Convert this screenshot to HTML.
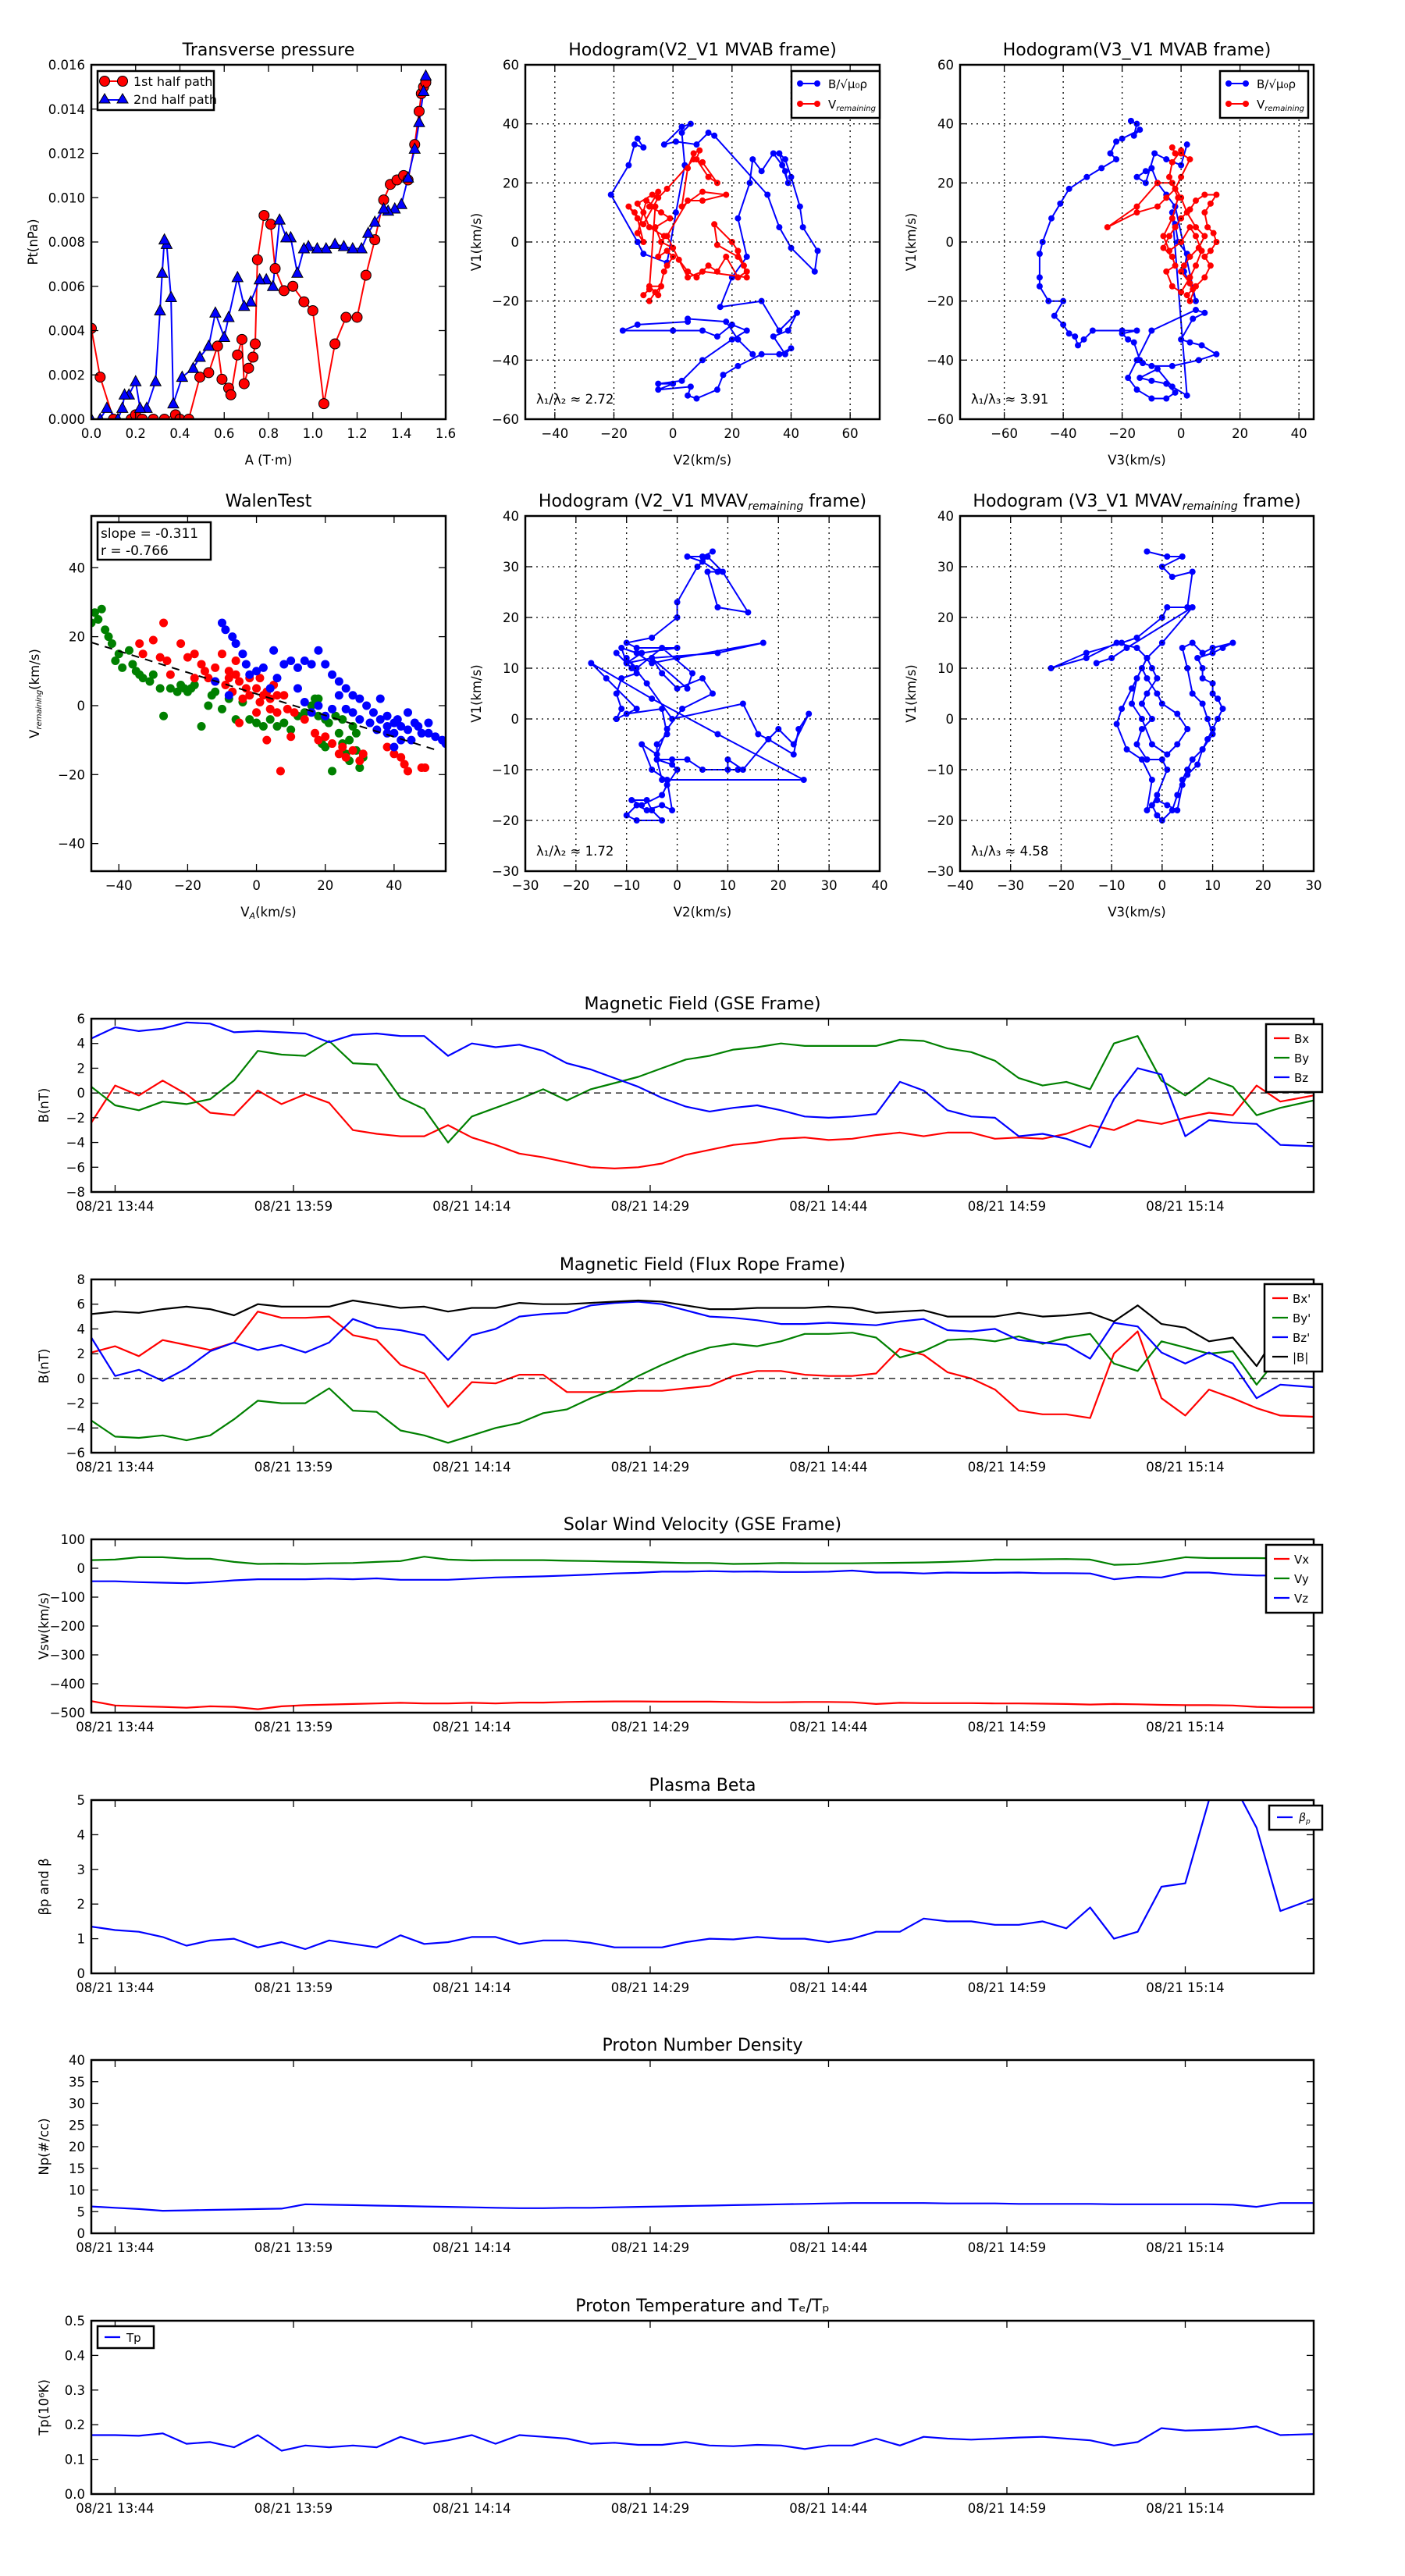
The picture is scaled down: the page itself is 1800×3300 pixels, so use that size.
<!DOCTYPE html>
<html><head><meta charset="utf-8"><title>Flux rope analysis</title>
<style>
html,body{margin:0;padding:0;background:#fff;}
svg{display:block;font-family:"DejaVu Sans","Liberation Sans",sans-serif;}
</style></head>
<body>
<svg id="fig" width="1800" height="3300" viewBox="0 0 1800 3300" xmlns="http://www.w3.org/2000/svg"></svg>
<script>
// ---------------- DATA ----------------
// Transverse pressure
const ptRedA=[0.0,0.04,0.1,0.18,0.2,0.23,0.28,0.33,0.38,0.4,0.44,0.49,0.53,0.57,0.59,0.62,0.63,0.66,0.68,0.69,0.71,0.73,0.74,0.75,0.78,0.81,0.83,0.87,0.91,0.96,1.0,1.05,1.1,1.15,1.2,1.24,1.28,1.32,1.35,1.38,1.41,1.43,1.46,1.48,1.49,1.5,1.51];
const ptRedP=[0.0041,0.0019,0.0,0.0,0.0002,0.0,0.0,0.0,0.0002,0.0,0.0,0.0019,0.0021,0.0033,0.0018,0.0014,0.0011,0.0029,0.0036,0.0016,0.0023,0.0028,0.0034,0.0072,0.0092,0.0088,0.0068,0.0058,0.0060,0.0053,0.0049,0.0007,0.0034,0.0046,0.0046,0.0065,0.0081,0.0099,0.0106,0.0108,0.0110,0.0108,0.0124,0.0139,0.0147,0.0150,0.0152];
const ptBlueA=[1.51,1.5,1.48,1.46,1.43,1.4,1.37,1.34,1.32,1.28,1.25,1.22,1.18,1.14,1.1,1.06,1.02,0.98,0.96,0.93,0.9,0.88,0.85,0.82,0.79,0.76,0.72,0.69,0.66,0.62,0.6,0.56,0.53,0.49,0.46,0.41,0.37,0.36,0.34,0.33,0.32,0.31,0.29,0.25,0.22,0.2,0.17,0.15,0.14,0.12,0.07,0.04,0.0];
const ptBlueP=[0.0155,0.0148,0.0134,0.0122,0.0109,0.0097,0.0095,0.0094,0.0095,0.0089,0.0084,0.0077,0.0077,0.0078,0.0079,0.0077,0.0077,0.0078,0.0077,0.0066,0.0082,0.0082,0.0090,0.0060,0.0063,0.0063,0.0053,0.0051,0.0064,0.0046,0.0037,0.0048,0.0033,0.0028,0.0023,0.0019,0.0007,0.0055,0.0079,0.0081,0.0066,0.0049,0.0017,0.0005,0.0005,0.0017,0.0011,0.0011,0.0005,0.0,0.0005,0.0,0.0];
// Hodogram V2-V1 MVAB
const h1BlueV2=[-12,-10,-13,-15,-21,-12,-10,-2,1,4,3,6,3,-3,1,8,12,14,32,36,40,48,49,44,43,40,38,36,38,39,37,34,30,27,26,22,25,20,16,30,36,42,39,34,38,40,36,30,22,17,15,8,5,6,-5,0,-5,3,10,20,25,20,15,10,0,-17,-12,5,5,18,22,27];
const h1BlueV1=[35,32,33,26,16,0,-4,-7,10,26,37,40,39,33,34,33,37,36,16,5,-2,-10,-3,5,12,22,28,30,24,20,26,30,24,28,20,8,-5,-12,-22,-20,-30,-24,-30,-32,-38,-36,-38,-38,-42,-45,-50,-53,-52,-49,-50,-48,-48,-47,-40,-33,-30,-28,-32,-30,-30,-30,-28,-27,-26,-27,-33,-38];
const h1RedV2=[-8,-6,-4,-8,-5,-3,-2,0,-2,-5,-3,-8,-10,-12,-7,-5,-8,-4,-1,-6,-4,0,2,5,8,12,15,18,22,25,22,15,14,20,22,24,25,10,5,-2,5,10,18,10,3,5,7,9,8,12,15,10,7,-2,-5,-10,-13,-15,-12,-10,-12,-9,-6,-8,-10];
const h1RedV1=[-20,-17,-15,-15,-18,-10,-8,-5,-3,-5,2,5,10,13,16,17,12,10,8,5,0,-2,-6,-10,-12,-8,-10,-5,-12,-10,-5,-1,6,0,-3,-8,-12,-10,-12,2,14,14,16,17,12,25,30,31,28,22,20,27,28,18,15,6,10,12,8,0,3,14,12,-16,-18];
// Hodogram V3-V1 MVAB
const h2BlueV3=[-17,-15,-16,-14,-20,-22,-24,-22,-27,-32,-38,-41,-44,-47,-48,-48,-48,-45,-40,-43,-40,-38,-36,-35,-33,-30,-20,-15,-20,-18,-16,-14,-13,-10,-3,6,12,7,3,0,4,8,5,-10,-15,-18,-15,-10,-5,-2,-5,-10,-14,-8,-3,2,-3,-2,-1,2,1,3,5,-2,-5,-8,-10,-12,-15,-12,-9,-5,0,2];
const h2BlueV1=[41,40,36,38,35,34,30,28,25,22,18,13,8,0,-4,-12,-15,-20,-20,-25,-28,-31,-32,-35,-33,-30,-30,-30,-31,-33,-34,-40,-41,-42,-42,-40,-38,-35,-34,-33,-26,-24,-23,-30,-40,-46,-50,-53,-53,-51,-48,-47,-46,-43,-49,-52,10,6,0,-4,-10,-14,-20,12,16,20,25,24,22,20,30,28,26,33];
const h2RedV3=[-3,-2,0,3,0,-2,-5,-8,-15,-25,-15,-8,-3,0,2,5,8,6,3,1,0,3,4,2,3,5,8,10,8,10,12,11,9,8,10,12,8,5,3,0,-2,-4,-6,-3,-2,-5,-3,0,3,5,7,5,3,0,-4,-6,-3,-1,-4,-3,0];
const h2RedV1=[32,30,30,28,22,18,15,12,10,5,12,20,20,15,10,5,2,-2,-5,-8,-10,-14,-16,-18,-20,-15,-12,-8,-5,-3,0,3,5,10,13,16,16,14,11,8,5,2,-2,-5,-8,-10,-15,-17,-12,-8,-3,2,5,0,-3,2,8,15,22,27,31];
// Walen test
const wGreenVA=[-49,-47,-48,-46,-45,-44,-43,-42,-41,-40,-39,-37,-36,-35,-34,-33,-31,-30,-28,-27,-25,-23,-22,-21,-20,-19,-18,-16,-14,-13,-12,-10,-8,-6,-4,-2,0,2,4,6,8,10,12,14,16,17,18,19,20,21,22,23,24,25,26,27,28,29,30,31,20,25,29,27,18];
const wGreenVR=[28,27,24,25,28,22,20,18,13,15,11,16,12,10,9,8,7,9,5,-3,5,4,6,5,4,5,6,-6,0,3,4,-1,2,-4,1,-4,-5,-6,-4,-6,-5,-7,-3,-2,0,2,-3,-11,-12,-5,-19,-3,-8,-11,-14,-10,-6,-8,-18,-15,-4,-4,-13,-16,2];
const wRedVA=[-27,-22,-20,-18,-16,-15,-12,-10,-8,-6,-5,-3,-2,0,1,2,3,4,5,6,8,-5,0,3,7,10,-28,-25,-30,-33,-14,-12,-9,-7,-4,1,4,6,9,11,14,17,18,20,22,24,25,26,28,30,31,38,40,42,43,44,48,49,-2,-6,-8,-18,-26,-34];
const wRedVR=[24,18,14,15,12,10,11,15,8,9,7,5,3,5,8,3,4,2,6,-2,3,-5,-2,-10,-19,-9,14,9,19,15,8,7,6,4,2,1,-1,3,-1,-2,-4,-8,-10,-9,-11,-14,-12,-15,-13,-16,-14,-12,-14,-15,-17,-19,-18,-18,8,13,10,8,13,18];
const wBlueVA=[-10,-9,-7,-6,-4,-3,-2,0,2,5,8,10,12,14,16,18,20,22,24,26,28,30,32,34,36,38,40,42,44,46,48,50,52,54,55,36,38,40,42,35,33,30,28,26,24,22,20,18,16,14,12,6,4,-12,-8,41,44,47,50,45,40,38];
const wBlueVR=[24,22,20,18,15,12,9,10,11,16,12,13,11,13,12,16,12,9,7,5,3,2,0,-2,-4,-3,-5,-6,-7,-5,-8,-8,-9,-10,-11,2,-6,-8,-10,-7,-5,-4,-2,-1,3,-1,-3,0,-2,1,5,8,5,7,3,-4,-2,-6,-5,-10,-12,-8];
const walenSlope=-0.311, walenIntercept=3.4;
// MVAV remaining hodograms
const h3V2=[7,5,2,5,8,6,8,14,9,6,4,0,0,-5,-10,-8,0,-7,-10,-11,-8,-5,0,17,8,-5,-10,-12,-9,-8,-11,-12,-11,-12,-10,-3,-2,-4,-4,-1,0,-2,-3,-7,-9,-6,-5,-3,-8,-10,-8,-6,-3,-1,-2,-5,-7,-4,-2,1,7,5,0,-3,-5,2,3,-3,-8,-10,-6,-1,13,16,18,23,24,26,23,20,18,13,10,10,12,5,2,-1,-4,-3,25,8,-5,-17,-14,-8,-12];
const h3V1=[33,32,32,31,29,29,22,21,29,32,30,23,20,16,15,14,14,13,11,14,13,11,12,15,13,12,11,13,10,9,8,5,2,0,1,2,-3,-5,-8,-9,-10,-13,-15,-17,-16,-16,-18,-20,-20,-19,-17,-18,-17,-18,-12,-10,-5,-7,-2,2,5,8,6,9,12,6,9,14,10,12,7,0,3,-3,-4,-7,-2,1,-5,-2,-4,-10,-8,-10,-10,-10,-8,-8,-8,-12,-12,-3,4,11,8,2,0];
const h4V3=[-3,1,4,0,2,6,5,1,0,-5,-8,-15,-22,-15,-9,-5,-3,-2,-1,-3,-4,-2,-4,-5,-3,0,1,-1,-2,-1,0,2,3,4,5,6,8,9,10,11,12,11,10,10,8,8,7,10,12,14,10,8,6,4,5,6,8,9,10,8,7,5,4,3,1,-1,-3,-2,-4,-7,-9,-8,-6,-4,-3,-1,0,3,5,3,1,-2,-4,-6,-5,-3,0,6,-7,-10,-13];
const h4V1=[33,32,32,30,28,29,22,22,20,16,15,13,10,12,15,14,12,10,8,5,3,0,-2,-5,-8,-8,-10,-15,-17,-19,-20,-18,-15,-12,-10,-8,-6,-4,-2,0,2,4,5,7,8,10,12,13,14,15,14,13,15,14,10,5,3,0,-3,-6,-9,-11,-13,-18,-17,-16,-18,-12,-8,-6,-1,2,6,10,8,5,3,1,-2,-5,-7,-5,0,3,8,12,15,22,14,12,11];
// Time series (minutes after 13:42)
const tMin=[0,2,4,6,8,10,12,14,16,18,20,22,24,26,28,30,32,34,36,38,40,42,44,46,48,50,52,54,56,58,60,62,64,66,68,70,72,74,76,78,80,82,84,86,88,90,92,94,96,98,100,102.8];
const tickMin=[2,17,32,47,62,77,92];
const tickLabels=["08/21 13:44","08/21 13:59","08/21 14:14","08/21 14:29","08/21 14:44","08/21 14:59","08/21 15:14"];
const gseBx=[-2.4,0.6,-0.2,1.0,-0.1,-1.6,-1.8,0.2,-0.9,-0.1,-0.8,-3.0,-3.3,-3.5,-3.5,-2.6,-3.6,-4.2,-4.9,-5.2,-5.6,-6.0,-6.1,-6.0,-5.7,-5.0,-4.6,-4.2,-4.0,-3.7,-3.6,-3.8,-3.7,-3.4,-3.2,-3.5,-3.2,-3.2,-3.7,-3.6,-3.7,-3.3,-2.6,-3.0,-2.2,-2.5,-2.0,-1.6,-1.8,0.6,-0.7,-0.2];
const gseBy=[0.5,-1.0,-1.4,-0.7,-0.9,-0.5,1.0,3.4,3.1,3.0,4.2,2.4,2.3,-0.4,-1.3,-4.0,-1.9,-1.2,-0.5,0.3,-0.6,0.3,0.8,1.3,2.0,2.7,3.0,3.5,3.7,4.0,3.8,3.8,3.8,3.8,4.3,4.2,3.6,3.3,2.6,1.2,0.6,0.9,0.3,4.0,4.6,1.0,-0.2,1.2,0.5,-1.8,-1.2,-0.6];
const gseBz=[4.4,5.3,5.0,5.2,5.7,5.6,4.9,5.0,4.9,4.8,4.1,4.7,4.8,4.6,4.6,3.0,4.0,3.7,3.9,3.4,2.4,1.9,1.2,0.5,-0.4,-1.1,-1.5,-1.2,-1.0,-1.4,-1.9,-2.0,-1.9,-1.7,0.9,0.2,-1.4,-1.9,-2.0,-3.5,-3.3,-3.7,-4.4,-0.5,2.0,1.5,-3.5,-2.2,-2.4,-2.5,-4.2,-4.3];
const frBx=[2.1,2.6,1.8,3.1,2.7,2.3,2.9,5.4,4.9,4.9,5.0,3.5,3.1,1.1,0.4,-2.3,-0.3,-0.4,0.3,0.3,-1.1,-1.1,-1.1,-1.0,-1.0,-0.8,-0.6,0.2,0.6,0.6,0.3,0.2,0.2,0.4,2.4,1.9,0.5,0.0,-0.9,-2.6,-2.9,-2.9,-3.2,2.0,3.8,-1.6,-3.0,-0.9,-1.6,-2.4,-3.0,-3.1];
const frBy=[-3.4,-4.7,-4.8,-4.6,-5.0,-4.6,-3.3,-1.8,-2.0,-2.0,-0.8,-2.6,-2.7,-4.2,-4.6,-5.2,-4.6,-4.0,-3.6,-2.8,-2.5,-1.6,-0.9,0.2,1.1,1.9,2.5,2.8,2.6,3.0,3.6,3.6,3.7,3.3,1.7,2.2,3.1,3.2,3.0,3.4,2.8,3.3,3.6,1.2,0.6,3.0,2.5,2.0,2.2,-0.5,1.9,3.0];
const frBz=[3.3,0.2,0.7,-0.2,0.8,2.2,2.9,2.3,2.7,2.1,2.9,4.8,4.1,3.9,3.5,1.5,3.5,4.0,5.0,5.2,5.3,5.9,6.1,6.2,6.0,5.5,5.0,4.9,4.7,4.4,4.4,4.5,4.4,4.3,4.6,4.8,3.9,3.8,4.0,3.1,2.9,2.7,1.6,4.5,4.2,2.1,1.2,2.1,1.2,-1.6,-0.5,-0.7];
const frBt=[5.2,5.4,5.3,5.6,5.8,5.6,5.1,6.0,5.8,5.8,5.8,6.3,6.0,5.7,5.8,5.4,5.7,5.7,6.1,6.0,6.0,6.1,6.2,6.3,6.2,5.9,5.6,5.6,5.7,5.7,5.7,5.8,5.7,5.3,5.4,5.5,5.0,5.0,5.0,5.3,5.0,5.1,5.3,4.6,5.9,4.4,4.1,3.0,3.3,1.0,4.0,4.5];
const vx=[-460,-475,-478,-480,-483,-478,-480,-488,-478,-474,-472,-470,-468,-466,-468,-468,-466,-468,-465,-465,-463,-462,-461,-461,-462,-462,-462,-463,-464,-464,-463,-463,-464,-470,-466,-467,-467,-467,-468,-468,-469,-470,-472,-470,-471,-473,-474,-474,-475,-480,-482,-482];
const vy=[28,30,38,38,33,33,22,15,16,15,17,18,22,25,40,30,27,28,28,28,26,25,23,22,20,18,18,15,16,18,17,17,17,18,19,20,22,25,30,30,31,32,30,12,14,25,38,35,35,35,34,33];
const vz=[-45,-45,-48,-50,-52,-48,-42,-38,-38,-38,-36,-38,-35,-40,-40,-40,-36,-32,-30,-28,-25,-22,-18,-16,-12,-12,-10,-12,-11,-13,-13,-12,-8,-15,-15,-18,-15,-16,-16,-15,-17,-17,-18,-38,-30,-32,-15,-15,-22,-25,-25,-25];
const betaP=[1.35,1.25,1.2,1.05,0.8,0.95,1.0,0.75,0.9,0.7,0.95,0.85,0.75,1.1,0.85,0.9,1.05,1.05,0.85,0.95,0.95,0.88,0.75,0.75,0.75,0.9,1.0,0.98,1.05,1.0,1.0,0.9,1.0,1.2,1.2,1.58,1.5,1.5,1.4,1.4,1.5,1.3,1.9,1.0,1.2,2.5,2.6,5.0,5.5,4.2,1.8,2.15];
const density=[6.2,5.9,5.6,5.2,5.3,5.4,5.5,5.6,5.7,6.7,6.6,6.5,6.4,6.3,6.2,6.1,6.0,5.9,5.8,5.8,5.9,5.9,6.0,6.1,6.2,6.3,6.4,6.5,6.6,6.7,6.8,6.9,7.0,7.0,7.0,7.0,6.9,6.9,6.9,6.8,6.8,6.8,6.8,6.7,6.7,6.7,6.7,6.7,6.6,6.1,7.0,7.0];
const tempP=[0.17,0.17,0.168,0.175,0.145,0.15,0.135,0.17,0.125,0.14,0.135,0.14,0.135,0.165,0.145,0.155,0.17,0.145,0.17,0.165,0.16,0.145,0.148,0.142,0.142,0.15,0.14,0.138,0.142,0.14,0.13,0.14,0.14,0.16,0.14,0.165,0.16,0.157,0.16,0.163,0.165,0.16,0.155,0.14,0.15,0.19,0.183,0.185,0.188,0.195,0.17,0.173];

// ---------------- DRAWING ----------------
const NS='http://www.w3.org/2000/svg';
const svg=document.getElementById('fig');
function mk(tag,attrs,parent){const e=document.createElementNS(NS,tag);for(const k in attrs)e.setAttribute(k,attrs[k]);(parent||svg).appendChild(e);return e;}
let clipN=0;
function makeAxes(name,L,T,R,B,xmin,xmax,ymin,ymax){
  const g=mk('g',{});
  
  
  const id='clip'+(clipN++);
  const cp=mk('clipPath',{id:id},g);mk('rect',{x:L,y:T,width:R-L,height:B-T},cp);
  const plot=mk('g',{'clip-path':'url(#'+id+')'},g);
  return {g,plot,L,T,R,B,sx:v=>L+(v-xmin)/(xmax-xmin)*(R-L),sy:v=>B-(v-ymin)/(ymax-ymin)*(B-T)};
}
function frame(ax){const r=mk('rect',{x:ax.L,y:ax.T,width:ax.R-ax.L,height:ax.B-ax.T,fill:'none',stroke:'#000','stroke-width':2.5},ax.g);
  
  }
function txt(parent,x,y,s,size,anchor,name){const t=mk('text',{x:x,y:y,'font-size':size,'text-anchor':anchor||'middle',fill:'#000'},parent);t.textContent=s;
  
  
  return t;}
function xticks(ax,vals,labels,grid){vals.forEach((v,i)=>{const x=ax.sx(v);
  if(grid)mk('line',{x1:x,y1:ax.T,x2:x,y2:ax.B,stroke:'#000','stroke-width':1.3,'stroke-dasharray':'2,5'},ax.g);
  mk('line',{x1:x,y1:ax.B,x2:x,y2:ax.B-9,stroke:'#000','stroke-width':1.3},ax.g);
  mk('line',{x1:x,y1:ax.T,x2:x,y2:ax.T+9,stroke:'#000','stroke-width':1.3},ax.g);
  txt(ax.g,x,ax.B+24,labels[i],16.5,'middle','x-tick-label');});}
function yticks(ax,vals,labels,grid){vals.forEach((v,i)=>{const y=ax.sy(v);
  if(grid)mk('line',{x1:ax.L,y1:y,x2:ax.R,y2:y,stroke:'#000','stroke-width':1.3,'stroke-dasharray':'2,5'},ax.g);
  mk('line',{x1:ax.L,y1:y,x2:ax.L+9,y2:y,stroke:'#000','stroke-width':1.3},ax.g);
  mk('line',{x1:ax.R,y1:y,x2:ax.R-9,y2:y,stroke:'#000','stroke-width':1.3},ax.g);
  txt(ax.g,ax.L-8,y+6,labels[i],16.5,'end','y-tick-label');});}
function range(a,b,s){const r=[];for(let v=a;v<=b+1e-9;v+=s)r.push(+v.toFixed(6));return r;}
function line(ax,xs,ys,color,name,w){const pts=xs.map((x,i)=>ax.sx(x).toFixed(1)+','+ax.sy(ys[i]).toFixed(1)).join(' ');
  const p=mk('polyline',{points:pts,fill:'none',stroke:color,'stroke-width':w||2.2,'stroke-linejoin':'round'},ax.plot);
  
  }
function dots(ax,xs,ys,color,r,name,edge){const g=mk('g',{},ax.plot);
  
  
  xs.forEach((x,i)=>mk('circle',{cx:ax.sx(x),cy:ax.sy(ys[i]),r:r,fill:color,stroke:edge||'none','stroke-width':1},g));}
function tris(ax,xs,ys,color,name){const g=mk('g',{},ax.plot);
  
  
  xs.forEach((x,i)=>{const cx=ax.sx(x),cy=ax.sy(ys[i]);mk('polygon',{points:`${cx},${cy-7.5} ${cx-7},${cy+5.5} ${cx+7},${cy+5.5}`,fill:color,stroke:'#000','stroke-width':1},g);});}
function ylabel(ax,x,s,name){const t=txt(ax.g,0,0,s,16.5,'middle',name);t.setAttribute('transform',`translate(${x},${(ax.T+ax.B)/2}) rotate(-90)`);return t;}
function legendBox(x,y,w,h,name){const r=mk('rect',{x:x,y:y,width:w,height:h,fill:'#fff',stroke:'#000','stroke-width':2.5});
  
  }

// Row1 / Row2 layout
const R1T=83,R1B=537,R2T=661,R2B=1116;
const C=[[117,571],[673,1127],[1230,1683]];

// Transverse pressure
{const ax=makeAxes('transverse-pressure-chart',C[0][0],R1T,C[0][1],R1B,0,1.6,0,0.016);
 xticks(ax,range(0,1.6,0.2),range(0,1.6,0.2).map(v=>v.toFixed(1)));
 yticks(ax,range(0,0.016,0.002),range(0,0.016,0.002).map(v=>v.toFixed(3)));
 line(ax,ptRedA,ptRedP,'#f00','first-half-line',2);
 line(ax,ptBlueA,ptBlueP,'#00f','second-half-line',2);
 dots(ax,ptRedA,ptRedP,'#f00',6.5,'first-half-markers','#000');
 tris(ax,ptBlueA,ptBlueP,'#00f','second-half-markers');
 frame(ax);
 txt(svg,(ax.L+ax.R)/2,R1T-12,'Transverse pressure',22,'middle','chart-title');
 txt(svg,(ax.L+ax.R)/2,R1B+58,'A (T·m)',16.5,'middle','x-axis-title');
 ylabel(ax,48,'Pt(nPa)','y-axis-title');
 legendBox(125,91,149,50,'legend');
 mk('line',{x1:134,y1:104,x2:157,y2:104,stroke:'#f00','stroke-width':2});
 mk('circle',{cx:134,cy:104,r:6.5,fill:'#f00',stroke:'#000'});mk('circle',{cx:157,cy:104,r:6.5,fill:'#f00',stroke:'#000'});
 txt(svg,171,110,'1st half path',16,'start','legend-entry');
 mk('line',{x1:134,y1:128,x2:157,y2:128,stroke:'#00f','stroke-width':2});
 mk('polygon',{points:'134,120 127,132 141,132',fill:'#00f',stroke:'#000'});mk('polygon',{points:'157,120 150,132 164,132',fill:'#00f',stroke:'#000'});
 txt(svg,171,133,'2nd half path',16,'start','legend-entry');}

function hodoLegend(x){legendBox(x,91,113,60,'legend');
  mk('line',{x1:x+11,y1:107,x2:x+33,y2:107,stroke:'#00f','stroke-width':2});
  mk('circle',{cx:x+11,cy:107,r:4,fill:'#00f'});mk('circle',{cx:x+33,cy:107,r:4,fill:'#00f'});
  txt(svg,x+47,113,'B/√μ₀ρ',15,'start','legend-entry');
  mk('line',{x1:x+11,y1:133,x2:x+33,y2:133,stroke:'#f00','stroke-width':2});
  mk('circle',{cx:x+11,cy:133,r:4,fill:'#f00'});mk('circle',{cx:x+33,cy:133,r:4,fill:'#f00'});
  const t=txt(svg,x+47,139,'V',15,'start','legend-entry');const s=mk('tspan',{'font-size':10,'font-style':'italic',dy:3},t);s.textContent='remaining';}

// Hodogram V2-V1 MVAB
{const ax=makeAxes('hodogram-v2-v1-mvab',C[1][0],R1T,C[1][1],R1B,-50,70,-60,60);
 xticks(ax,range(-40,60,20),range(-40,60,20).map(v=>v<0?'−'+(-v):''+v),true);
 yticks(ax,range(-60,60,20),range(-60,60,20).map(v=>v<0?'−'+(-v):''+v),true);
 line(ax,h1BlueV2,h1BlueV1,'#00f','alfven-velocity-path',2);dots(ax,h1BlueV2,h1BlueV1,'#00f',4,'alfven-velocity-points');
 line(ax,h1RedV2,h1RedV1,'#f00','remaining-velocity-path',2);dots(ax,h1RedV2,h1RedV1,'#f00',4,'remaining-velocity-points');
 frame(ax);
 txt(svg,(ax.L+ax.R)/2,R1T-12,'Hodogram(V2_V1 MVAB frame)',22,'middle','chart-title');
 txt(svg,(ax.L+ax.R)/2,R1B+58,'V2(km/s)',16.5,'middle','x-axis-title');
 ylabel(ax,616,'V1(km/s)','y-axis-title');
 txt(svg,ax.L+14,R1B-20,'λ₁/λ₂ ≈ 2.72',16.5,'start','eigen-ratio');
 hodoLegend(1014);}
// Hodogram V3-V1 MVAB
{const ax=makeAxes('hodogram-v3-v1-mvab',C[2][0],R1T,C[2][1],R1B,-75,45,-60,60);
 xticks(ax,range(-60,40,20),range(-60,40,20).map(v=>v<0?'−'+(-v):''+v),true);
 yticks(ax,range(-60,60,20),range(-60,60,20).map(v=>v<0?'−'+(-v):''+v),true);
 line(ax,h2BlueV3,h2BlueV1,'#00f','alfven-velocity-path',2);dots(ax,h2BlueV3,h2BlueV1,'#00f',4,'alfven-velocity-points');
 line(ax,h2RedV3,h2RedV1,'#f00','remaining-velocity-path',2);dots(ax,h2RedV3,h2RedV1,'#f00',4,'remaining-velocity-points');
 frame(ax);
 txt(svg,(ax.L+ax.R)/2,R1T-12,'Hodogram(V3_V1 MVAB frame)',22,'middle','chart-title');
 txt(svg,(ax.L+ax.R)/2,R1B+58,'V3(km/s)',16.5,'middle','x-axis-title');
 ylabel(ax,1173,'V1(km/s)','y-axis-title');
 txt(svg,ax.L+14,R1B-20,'λ₁/λ₃ ≈ 3.91',16.5,'start','eigen-ratio');
 hodoLegend(1563);}
// Walen test
{const ax=makeAxes('walen-test-chart',C[0][0],R2T,C[0][1],R2B,-48,55,-48,55);
 xticks(ax,range(-40,40,20),range(-40,40,20).map(v=>v<0?'−'+(-v):''+v));
 yticks(ax,range(-40,40,20),range(-40,40,20).map(v=>v<0?'−'+(-v):''+v));
 dots(ax,wGreenVA,wGreenVR,'#008000',5.5,'walen-points-green');
 dots(ax,wRedVA,wRedVR,'#f00',5.5,'walen-points-red');
 dots(ax,wBlueVA,wBlueVR,'#00f',5.5,'walen-points-blue');
 const fx=[-48,53];line(ax,fx,fx.map(x=>walenSlope*x+walenIntercept),'#000','fit-line',2);
 ax.plot.lastChild.setAttribute('stroke-dasharray','10,8');
 frame(ax);
 txt(svg,(ax.L+ax.R)/2,R2T-12,'WalenTest',22,'middle','chart-title');
 const xl=txt(svg,(ax.L+ax.R)/2,R2B+58,'V',16.5,'middle','x-axis-title');const s1=mk('tspan',{'font-size':11,'font-style':'italic',dy:3},xl);s1.textContent='A';const s2=mk('tspan',{dy:-3},xl);s2.textContent='(km/s)';
 const yl=ylabel(ax,50,'V','y-axis-title');const s3=mk('tspan',{'font-size':10,'font-style':'italic',dy:3},yl);s3.textContent='remaining';const s4=mk('tspan',{dy:-3},yl);s4.textContent='(km/s)';
 legendBox(125,669,145,48,'fit-stats-box');
 txt(svg,129,689,'slope = -0.311',17,'start','slope-text');
 txt(svg,129,711,'r = -0.766',17,'start','r-text');}
// MVAV hodograms
{const ax=makeAxes('hodogram-v2-v1-mvav',C[1][0],R2T,C[1][1],R2B,-30,40,-30,40);
 xticks(ax,range(-30,40,10),range(-30,40,10).map(v=>v<0?'−'+(-v):''+v),true);
 yticks(ax,range(-30,40,10),range(-30,40,10).map(v=>v<0?'−'+(-v):''+v),true);
 line(ax,h3V2,h3V1,'#00f','remaining-velocity-path',2);dots(ax,h3V2,h3V1,'#00f',4,'remaining-velocity-points');
 frame(ax);
 const t=txt(svg,(ax.L+ax.R)/2,R2T-12,'Hodogram (V2_V1 MVAV',22,'middle','chart-title');const a=mk('tspan',{'font-size':14,'font-style':'italic',dy:4},t);a.textContent='remaining';const b=mk('tspan',{dy:-4},t);b.textContent=' frame)';
 txt(svg,(ax.L+ax.R)/2,R2B+58,'V2(km/s)',16.5,'middle','x-axis-title');
 ylabel(ax,616,'V1(km/s)','y-axis-title');
 txt(svg,ax.L+14,R2B-20,'λ₁/λ₂ ≈ 1.72',16.5,'start','eigen-ratio');}
{const ax=makeAxes('hodogram-v3-v1-mvav',C[2][0],R2T,C[2][1],R2B,-40,30,-30,40);
 xticks(ax,range(-40,30,10),range(-40,30,10).map(v=>v<0?'−'+(-v):''+v),true);
 yticks(ax,range(-30,40,10),range(-30,40,10).map(v=>v<0?'−'+(-v):''+v),true);
 line(ax,h4V3,h4V1,'#00f','remaining-velocity-path',2);dots(ax,h4V3,h4V1,'#00f',4,'remaining-velocity-points');
 frame(ax);
 const t=txt(svg,(ax.L+ax.R)/2,R2T-12,'Hodogram (V3_V1 MVAV',22,'middle','chart-title');const a=mk('tspan',{'font-size':14,'font-style':'italic',dy:4},t);a.textContent='remaining';const b=mk('tspan',{dy:-4},t);b.textContent=' frame)';
 txt(svg,(ax.L+ax.R)/2,R2B+58,'V3(km/s)',16.5,'middle','x-axis-title');
 ylabel(ax,1173,'V1(km/s)','y-axis-title');
 txt(svg,ax.L+14,R2B-20,'λ₁/λ₃ ≈ 4.58',16.5,'start','eigen-ratio');}

// Time series panels
const TL=117,TR=1683,TH=222;
function tsPanel(name,top,ymin,ymax,yv,ylab,title,ytitle){
  const ax=makeAxes(name,TL,top,TR,top+TH,0,102.8,ymin,ymax);
  xticks(ax,tickMin,tickLabels);
  yticks(ax,yv,ylab);
  txt(svg,(TL+TR)/2,top-12,title,22,'middle','chart-title');
  ylabel(ax,62,ytitle,'y-axis-title');
  return ax;}
function tsLegend(x,y,w,entries){legendBox(x,y,w,entries.length*25+12,'legend');
  entries.forEach((e,i)=>{const yy=y+18+i*25;mk('line',{x1:x+10,y1:yy,x2:x+30,y2:yy,stroke:e[1],'stroke-width':2.2});
  txt(svg,x+36,yy+6,e[0],15,'start','legend-entry');});}
function zeroLine(ax){const l=mk('line',{x1:TL,y1:ax.sy(0),x2:TR,y2:ax.sy(0),stroke:'#000','stroke-width':1.3,'stroke-dasharray':'8,6'},ax.g);
  
  }
const neg=v=>v<0?'−'+(-v):''+v;
{const ax=tsPanel('magnetic-field-gse-chart',1305,-8,6,range(-8,6,2),range(-8,6,2).map(neg),'Magnetic Field (GSE Frame)','B(nT)');
 zeroLine(ax);line(ax,tMin,gseBx,'#f00','bx-line');line(ax,tMin,gseBy,'#008000','by-line');line(ax,tMin,gseBz,'#00f','bz-line');frame(ax);
 tsLegend(1622,1312,72,[['Bx','#f00'],['By','#008000'],['Bz','#00f']]);}
{const ax=tsPanel('magnetic-field-flux-rope-chart',1639,-6,8,range(-6,8,2),range(-6,8,2).map(neg),'Magnetic Field (Flux Rope Frame)','B(nT)');
 zeroLine(ax);line(ax,tMin,frBx,'#f00','bx-prime-line');line(ax,tMin,frBy,'#008000','by-prime-line');line(ax,tMin,frBz,'#00f','bz-prime-line');line(ax,tMin,frBt,'#000','b-total-line');frame(ax);
 tsLegend(1620,1645,74,[["Bx'",'#f00'],["By'",'#008000'],["Bz'",'#00f'],['|B|','#000']]);}
{const ax=tsPanel('solar-wind-velocity-chart',1972,-500,100,range(-500,100,100),range(-500,100,100).map(neg),'Solar Wind Velocity (GSE Frame)','Vsw(km/s)');
 line(ax,tMin,vx,'#f00','vx-line');line(ax,tMin,vy,'#008000','vy-line');line(ax,tMin,vz,'#00f','vz-line');frame(ax);
 tsLegend(1622,1979,72,[['Vx','#f00'],['Vy','#008000'],['Vz','#00f']]);}
{const ax=tsPanel('plasma-beta-chart',2306,0,5,range(0,5,1),range(0,5,1).map(String),'Plasma Beta','βp and β');
 line(ax,tMin,betaP,'#00f','beta-p-line');frame(ax);
 legendBox(1626,2313,68,31,'legend');mk('line',{x1:1636,y1:2328,x2:1656,y2:2328,stroke:'#00f','stroke-width':2.2});
 const t=txt(svg,1664,2333,'β',14,'start','legend-entry');t.setAttribute('font-style','italic');const s=mk('tspan',{'font-size':9,dy:3},t);s.textContent='p';}
{const ax=tsPanel('proton-density-chart',2639,0,40,range(0,40,5),range(0,40,5).map(String),'Proton Number Density','Np(#/cc)');
 line(ax,tMin,density,'#00f','density-line');frame(ax);}
{const ax=tsPanel('proton-temperature-chart',2973,0,0.5,range(0,0.5,0.1),range(0,0.5,0.1).map(v=>v.toFixed(1)),'Proton Temperature and Tₑ/Tₚ','Tp(10⁶K)');
 line(ax,tMin,tempP,'#00f','tp-line');frame(ax);
 legendBox(125,2980,72,28,'legend');mk('line',{x1:134,y1:2994,x2:154,y2:2994,stroke:'#00f','stroke-width':2.2});
 txt(svg,162,3000,'Tp',15,'start','legend-entry');}
</script>
</body></html>
